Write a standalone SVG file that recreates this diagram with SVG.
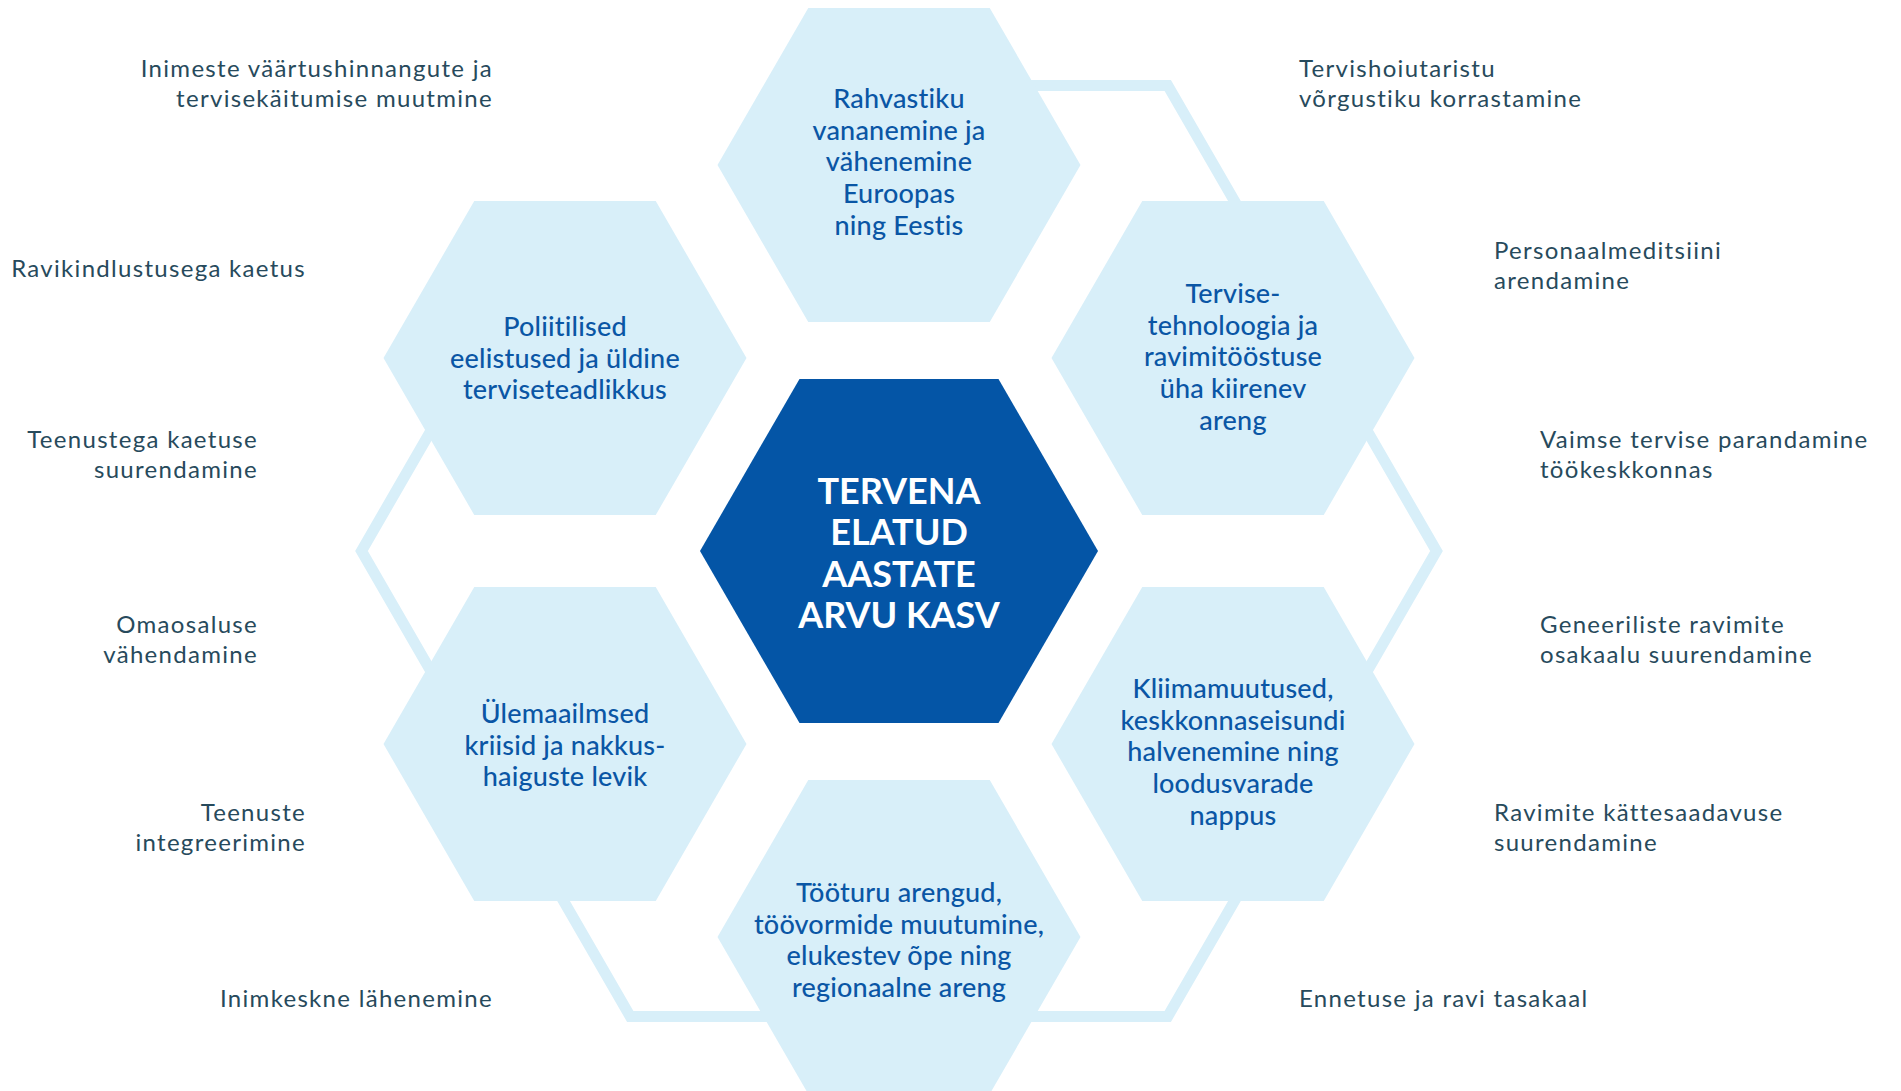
<svg xmlns="http://www.w3.org/2000/svg" width="1901" height="1091" viewBox="0 0 1901 1091">
<defs>
<style>
.bg{fill:#ffffff}
.hex{fill:#d8eff9}
.core{fill:#0455a6}
.band{fill:none;stroke:#d8eff9;stroke-width:11;stroke-linejoin:miter}
.ht{font-family:Lato,"Open Sans","Liberation Sans",sans-serif;font-size:27px;fill:#0a56a5;text-anchor:middle;font-weight:500;letter-spacing:0.2px}
.ct{font-family:Lato,"Open Sans","Liberation Sans",sans-serif;font-size:36px;fill:#ffffff;text-anchor:middle;font-weight:700}
.sl{font-family:Lato,"Open Sans","Liberation Sans",sans-serif;font-size:24px;fill:#274a5c;text-anchor:end;letter-spacing:1.3px}
.sr{font-family:Lato,"Open Sans","Liberation Sans",sans-serif;font-size:24px;fill:#274a5c;text-anchor:start;letter-spacing:1.3px}
</style>
<polygon id="hx" points="-181.5,0 -90.75,-157 90.75,-157 181.5,0 90.75,157 -90.75,157"/>
</defs>
<rect class="bg" x="0" y="0" width="1901" height="1091"/>
<g id="connectors">
<path class="band" d="M 899 85.5 L 1167.75 85.5 L 1436.5 551 L 1167.75 1016.5 L 630.25 1016.5 L 361.5 551 L 472.9 358"/>
</g>
<g id="n-top">
<use href="#hx" class="hex" x="899" y="165"/>
<text class="ht"><tspan x="899" y="108">Rahvastiku</tspan><tspan x="899" y="139.5">vananemine ja</tspan><tspan x="899" y="171">vähenemine</tspan><tspan x="899" y="203">Euroopas</tspan><tspan x="899" y="235">ning Eestis</tspan></text>
</g>
<g id="n-topleft">
<use href="#hx" class="hex" x="565" y="358"/>
<text class="ht"><tspan x="565" y="336">Poliitilised</tspan><tspan x="565" y="367.5">eelistused ja üldine</tspan><tspan x="565" y="399">terviseteadlikkus</tspan></text>
</g>
<g id="n-topright">
<use href="#hx" class="hex" x="1233" y="358"/>
<text class="ht"><tspan x="1233" y="303">Tervise-</tspan><tspan x="1233" y="334.5">tehnoloogia ja</tspan><tspan x="1233" y="366">ravimitööstuse</tspan><tspan x="1233" y="398">üha kiirenev</tspan><tspan x="1233" y="430">areng</tspan></text>
</g>
<g id="n-bottomleft">
<use href="#hx" class="hex" x="565" y="744"/>
<text class="ht"><tspan x="565" y="723">Ülemaailmsed</tspan><tspan x="565" y="754.5">kriisid ja nakkus-</tspan><tspan x="565" y="786">haiguste levik</tspan></text>
</g>
<g id="n-bottomright">
<use href="#hx" class="hex" x="1233" y="744"/>
<text class="ht"><tspan x="1233" y="698">Kliimamuutused,</tspan><tspan x="1233" y="729.5">keskkonnaseisundi</tspan><tspan x="1233" y="761">halvenemine ning</tspan><tspan x="1233" y="793">loodusvarade</tspan><tspan x="1233" y="825">nappus</tspan></text>
</g>
<g id="n-bottom">
<use href="#hx" class="hex" x="899" y="937"/>
<text class="ht"><tspan x="899" y="902">Tööturu arengud,</tspan><tspan x="899" y="933.5">töövormide muutumine,</tspan><tspan x="899" y="965">elukestev õpe ning</tspan><tspan x="899" y="997">regionaalne areng</tspan></text>
</g>
<g id="n-center">
<polygon class="core" points="700,551 799.5,379 998.5,379 1098,551 998.5,723 799.5,723"/>
<text class="ct"><tspan x="899" y="504">TERVENA</tspan><tspan x="899" y="545">ELATUD</tspan><tspan x="899" y="587">AASTATE</tspan><tspan x="899" y="628">ARVU KASV</tspan></text>
</g>
<g id="labels-left">
<text class="sl"><tspan x="493" y="77">Inimeste väärtushinnangute ja</tspan><tspan x="493" y="107">tervisekäitumise muutmine</tspan></text>
<text class="sl"><tspan x="306" y="277">Ravikindlustusega kaetus</tspan></text>
<text class="sl"><tspan x="258" y="448">Teenustega kaetuse</tspan><tspan x="258" y="478">suurendamine</tspan></text>
<text class="sl"><tspan x="258" y="633">Omaosaluse</tspan><tspan x="258" y="663">vähendamine</tspan></text>
<text class="sl"><tspan x="306" y="821">Teenuste</tspan><tspan x="306" y="851">integreerimine</tspan></text>
<text class="sl"><tspan x="493" y="1007">Inimkeskne lähenemine</tspan></text>
</g>
<g id="labels-right">
<text class="sr"><tspan x="1299" y="77">Tervishoiutaristu</tspan><tspan x="1299" y="107">võrgustiku korrastamine</tspan></text>
<text class="sr"><tspan x="1494" y="259">Personaalmeditsiini</tspan><tspan x="1494" y="289">arendamine</tspan></text>
<text class="sr"><tspan x="1540" y="448">Vaimse tervise parandamine</tspan><tspan x="1540" y="478">töökeskkonnas</tspan></text>
<text class="sr"><tspan x="1540" y="633">Geneeriliste ravimite</tspan><tspan x="1540" y="663">osakaalu suurendamine</tspan></text>
<text class="sr"><tspan x="1494" y="821">Ravimite kättesaadavuse</tspan><tspan x="1494" y="851">suurendamine</tspan></text>
<text class="sr"><tspan x="1299" y="1007">Ennetuse ja ravi tasakaal</tspan></text>
</g>
</svg>
